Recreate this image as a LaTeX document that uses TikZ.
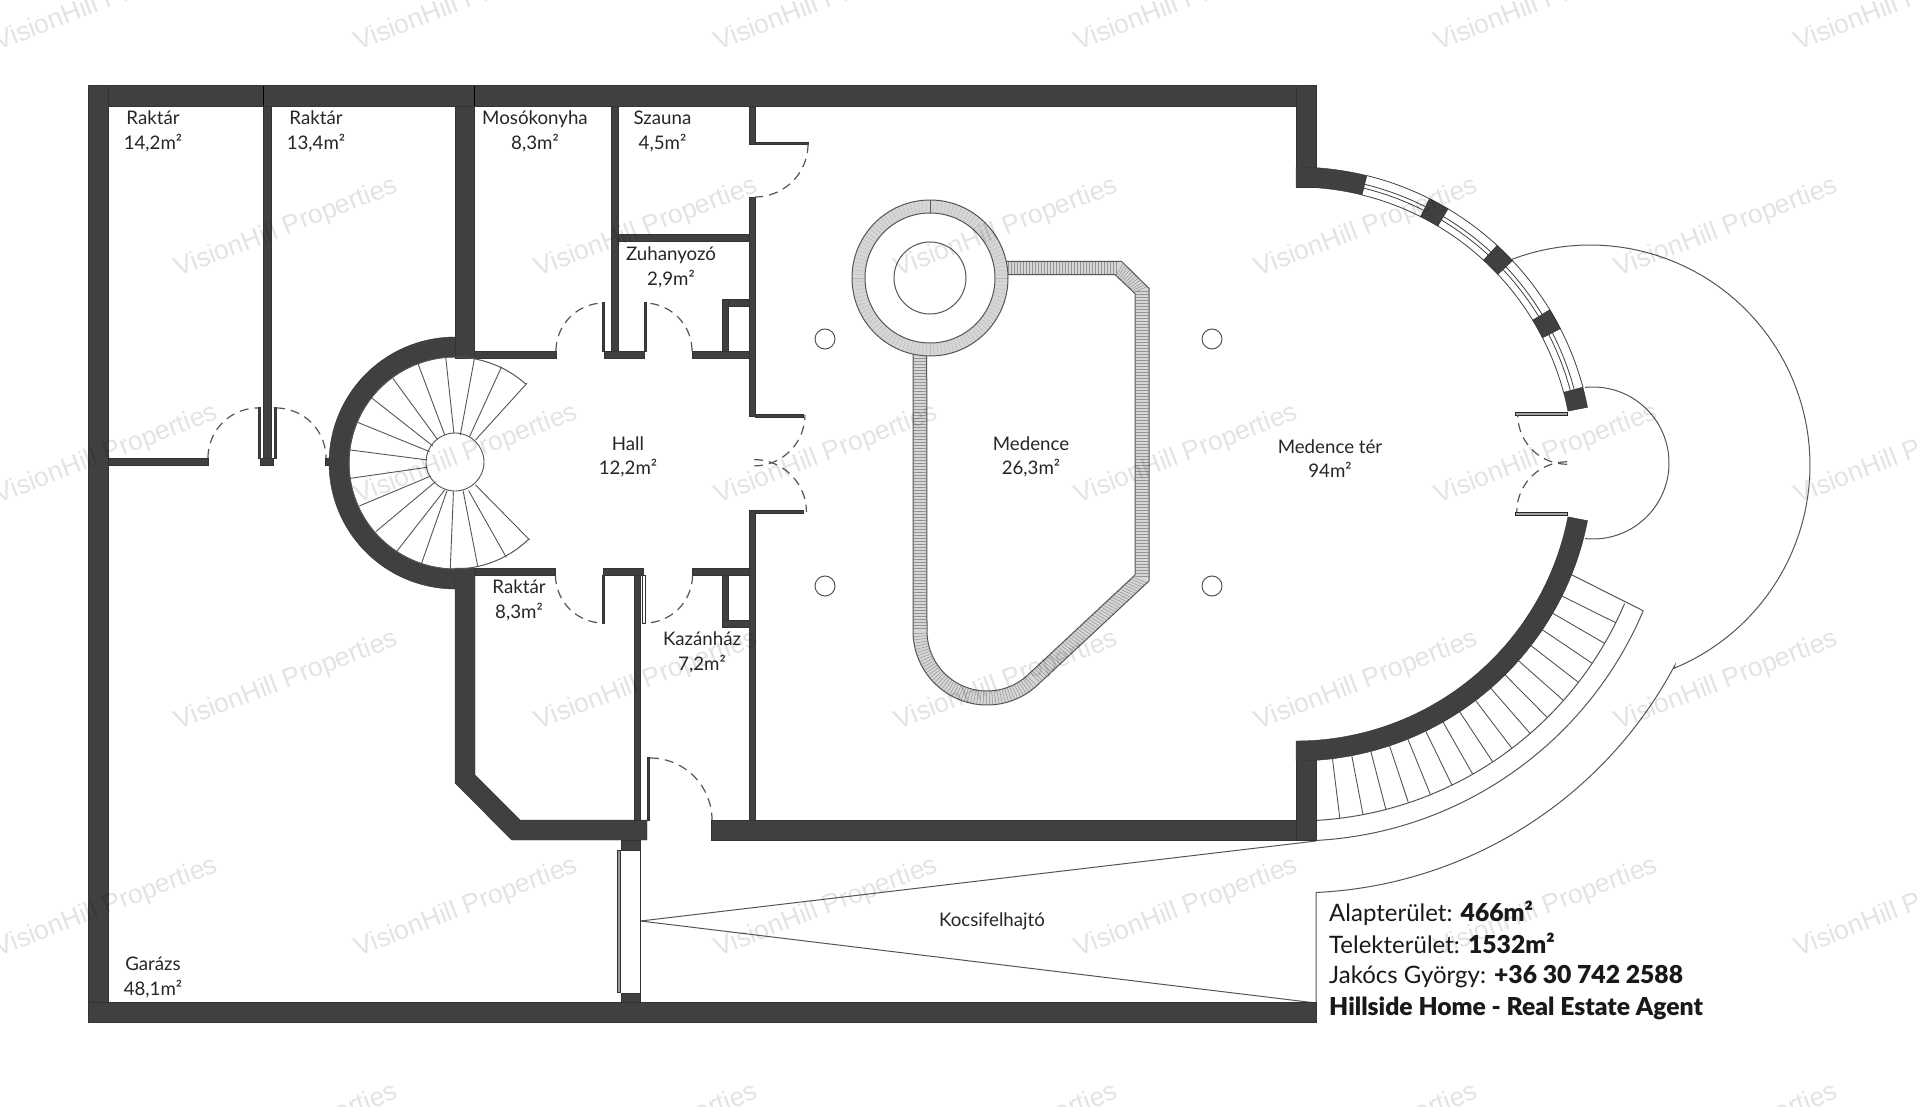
\documentclass[tikz,border=0pt]{standalone}
\usepackage{fontspec}
\setmainfont{Lato}
\newfontfamily\wmfont{Liberation Sans}
\newfontfamily\heavy{Lato Black}
\newcommand{\hv}[1]{{\heavy\fontsize{24.7}{27}\selectfont #1}}
\definecolor{wallc}{HTML}{404040}
\definecolor{linec}{HTML}{555555}
\definecolor{poolc}{HTML}{D6D6D6}
\newcommand{\arcp}[5]{plot[domain=#4:#5,samples=70] ({#1+#3*cos(\x)},{#2+#3*sin(\x)})}
\newcommand{\arcc}[5]{-- plot[domain=#4:#5,samples=70] ({#1+#3*cos(\x)},{#2+#3*sin(\x)})}
\newcommand{\wallrect}[4]{\fill[wallc,draw=black!80,line width=.4pt] (#1,#2) rectangle (#3,#4);}
\newcommand{\annsec}[6]{\fill[wallc,draw=black!80,line width=.4pt] \arcp{#1}{#2}{#3}{#5}{#6} \arcc{#1}{#2}{#4}{#6}{#5} -- cycle;}
\newcommand{\doorarc}[5]{\draw[doorline] \arcp{#1}{#2}{#3}{#4}{#5};}
\tikzset{
  x=1pt,y=-1pt,
  thinline/.style={draw=linec,line width=1pt},
  doorline/.style={draw=linec,line width=1.2pt,dash pattern=on 9pt off 6pt},
  room/.style={align=center,font=\fontsize{18.7}{24.5}\selectfont,inner sep=0pt,text=black!85},
  infotext/.style={anchor=base west,font=\fontsize{24}{27}\selectfont,inner sep=0pt,text=black!90},
  mark text/.style={font=\wmfont\fontsize{26.5}{30}\selectfont,text=black,opacity=.11,rotate=21,inner sep=0pt},
  stub/.style={fill=black!35,draw=black!85,line width=.7pt},
  glass/.style={draw=black!75,line width=.8pt},
  hatch/.style={black!42,line width=.5pt}
}
\begin{document}
\begin{tikzpicture}
\fill[white] (0,0) rectangle (1920,1107);
\clip (0,0) rectangle (1920,1107);
% ---------- thin outlines (terrace, stairs, drive)
\coordinate (apex) at (640.6,921);
\coordinate (drivetop) at (1316,841);
\coordinate (drivebot) at (1316,1003);
\draw[thinline] (apex) -- (drivetop);
\draw[thinline] (apex) -- (drivebot);
\draw[thinline] \arcp{1593}{463}{76}{-96}{96};
\draw[thinline] \arcp{1590}{465}{220}{-110.8}{67.5} \arcc{1296}{464}{429}{28}{87.3} -- (drivebot);
\draw[thinline] \arcp{1296}{464}{357}{23}{86.8};
\draw[thinline] \arcp{1296}{464}{377}{22.9}{87};
\draw[thinline] (1570,574) -- (1643,610.7);
\foreach \i in {0,...,15}{
  \pgfmathsetmacro{\ang}{26.4+3.77*\i}
  \draw[draw=linec,line width=.9pt] ({1296+297*cos(\ang)},{464+297*sin(\ang)}) -- ({1296+357*cos(\ang)},{464+357*sin(\ang)});
}
% ---------- pool
\fill[poolc] (913,340) \arcc{987}{631}{74}{180}{46.6} -- (1149,581) -- (1149,288.4) -- (1121.7,261.5) -- (960,261.5) -- cycle;
\foreach \yy in {358,361,...,630}{\draw[hatch] (913,\yy) -- (926.7,\yy);}
\foreach \yy in {291,294,...,576}{\draw[hatch] (1135,\yy) -- (1149,\yy);}
\foreach \xx in {1008,1011,...,1116}{\draw[hatch] (\xx,261.5) -- (\xx,274.6);}
\foreach \ang in {48,50.5,...,178}{\draw[hatch] ({987+60*cos(\ang)},{631+60*sin(\ang)}) -- ({987+74*cos(\ang)},{631+74*sin(\ang)});}
\foreach \t in {0.02,0.04,...,0.98}{
  \draw[hatch] ({1135+(1028-1135)*\t},{575+(674.6-575)*\t}) -- ({1149+(1037.8-1149)*\t},{581+(684.8-581)*\t});
}
\foreach \t in {0.06,0.14,...,0.95}{
  \draw[hatch] ({1115+20*\t},{274.6+19*\t}) -- ({1121.7+26.6*\t},{261.5+26.9*\t});
}
\draw[thinline] (913,340) \arcc{987}{631}{74}{180}{46.6} -- (1149,581) -- (1149,288.4) -- (1121.7,261.5) -- (960,261.5);
\fill[white] (926.7,340) \arcc{987}{631}{60}{180}{46.6} -- (1135,575) -- (1135,293.6) -- (1115,274.6) -- (960,274.6) -- cycle;
\draw[thinline] (926.7,340) \arcc{987}{631}{60}{180}{46.6} -- (1135,575) -- (1135,293.6) -- (1115,274.6) -- (960,274.6);
\fill[poolc] (930,278) circle[radius=78];
\foreach \ang in {0,3,...,357}{\draw[black!28,line width=.35pt] ({930+65*cos(\ang)},{278+65*sin(\ang)}) -- ({930+78*cos(\ang)},{278+78*sin(\ang)});}
\draw[thinline,fill=none] (930,278) circle[radius=78];
\draw[thinline,fill=white] (930,278) circle[radius=65];
\draw[thinline] (930,278) circle[radius=36];
\draw[thinline] (930,200) -- (930,213);
% columns
\foreach \cx/\cy in {825/339,1212/339,825/586,1212/586}{\draw[thinline] (\cx,\cy) circle[radius=10];}
% ---------- walls
\wallrect{88.5}{85.7}{1316}{106}
\wallrect{88.5}{85.7}{108}{1022.5}
\wallrect{88.5}{1002.5}{1316}{1022.5}
\draw[black,line width=.7pt] (263.4,86) -- (263.4,106);
\draw[black,line width=.7pt] (474.6,86) -- (474.6,106);
\wallrect{263.4}{106}{271.2}{458}
\wallrect{260}{458}{273.5}{465}
\wallrect{108}{458}{208}{465}
\wallrect{325}{458}{332}{465}
\wallrect{455}{106}{474.6}{358}
\annsec{455}{463}{106}{126}{90}{270}
\wallrect{474.6}{351}{556}{358}
\wallrect{604}{351}{644}{358}
\wallrect{692}{351}{749}{358}
\wallrect{611}{106}{618}{351}
\wallrect{618}{234}{749}{241}
\wallrect{602}{302}{604}{351}
\wallrect{644}{302}{646}{351}
\wallrect{258}{407}{260.5}{458}
\wallrect{274}{407}{276}{458}
\wallrect{749}{106}{755}{144}
\wallrect{755}{142}{808}{144.5}
\wallrect{749}{197}{755}{416}
\wallrect{755}{414}{803}{416.7}
\wallrect{749}{510}{755}{820}
\wallrect{755}{510}{803}{512.7}
\wallrect{722}{299}{749}{306}
\wallrect{722}{299}{728}{351}
\wallrect{475}{568}{555.6}{575}
\wallrect{603.5}{568}{643}{575}
\wallrect{692}{568}{749}{575}
\wallrect{722}{575}{728}{627}
\wallrect{722}{620}{749}{627}
\fill[wallc,draw=black!80,line width=.4pt] (455,568) -- (475,568) -- (475,775) -- (520,820) -- (647,820) -- (647,840) -- (511.6,840) -- (455,783) -- cycle;
\wallrect{634}{575}{640.6}{820}
\wallrect{602}{575}{604}{623}
\draw[draw=black!80,fill=white,line width=.8pt] (642.5,575) rectangle (645.5,623);
\wallrect{647}{757}{649.5}{820}
\wallrect{711}{820}{1316}{840}
\wallrect{620.7}{840}{640.6}{850}
\wallrect{620.7}{992.7}{640.6}{1002.5}
\draw[draw=black!80,fill=black!40,line width=.7pt] (617.6,850) rectangle (620.7,992.7);
\draw[black!80,line width=.8pt] (640.6,850) -- (640.6,992.7);
% right curved wall
\wallrect{1296}{85.7}{1316}{187}
\wallrect{1296}{741}{1316}{840}
\annsec{1296}{464}{277}{297}{270}{283.8}
\annsec{1296}{464}{277}{297}{11}{90}
\draw[glass] \arcp{1296}{464}{277}{283.8}{345};
\draw[glass] \arcp{1296}{464}{297}{283.8}{345};
\foreach \aa/\bb in {283.8/296.7,300.8/312.6,316.8/328.7,332.9/345}{
  \draw[glass] \arcp{1296}{464}{284}{\aa}{\bb};
  \draw[glass] \arcp{1296}{464}{288}{\aa}{\bb};
}
\annsec{1296}{464}{277}{297}{296.7}{300.8}
\annsec{1296}{464}{277}{297}{312.6}{316.8}
\annsec{1296}{464}{277}{297}{328.7}{332.9}
\annsec{1296}{464}{277}{297}{345}{349}
\draw[stub] (1515,412) rectangle (1567,415);
\draw[stub] (1515,512) rectangle (1567,515);
% ---------- doors
\doorarc{258}{458}{50}{180}{270}
\doorarc{276}{458}{50}{270}{360}
\doorarc{604}{351}{48}{180}{270}
\doorarc{644}{351}{48}{360}{270}
\doorarc{603.5}{575}{48}{180}{90}
\doorarc{644.5}{575}{48}{0}{90}
\doorarc{650}{820}{62}{270}{360}
\doorarc{755}{144}{53}{0}{90}
\doorarc{754}{415}{50.9}{90}{0}
\doorarc{754}{512}{52.4}{270}{360}
\doorarc{1567}{415}{49.2}{90}{180}
\doorarc{1567}{512}{50.2}{270}{180}
% ---------- spiral stair
\draw[thinline] \arcp{455}{463}{106}{46}{312};
\draw[draw=linec,line width=.9pt] (455,462) circle[radius=29];
\begin{scope}[shift={(60pt,-70pt)},x=.4591pt,y=-.3333pt]
\foreach \ax/\ay/\bx/\by in {1017/940/905/1110,962/890/892/1100,903/863/872/1095,840/860/858/1090,780/882/838/1095,725/925/822/1108,680/985/812/1128,648/1057/805/1145,632/1140/800/1170,633/1225/800/1192,652/1308/808/1218,688/1385/818/1235,733/1445/838/1260,787/1482/843/1262,850/1498/857/1265,910/1490/878/1262,972/1462/890/1262,1023/1410/905/1245}{
  \draw[draw=linec,line width=.9pt] (\ax,\ay) -- (\bx,\by);
}
\end{scope}
% ---------- room labels
\node[room] (r1) at (153,131.5) {Raktár\\14,2m²};
\node[room] (r2) at (316,131.5) {Raktár\\13,4m²};
\node[room] (r3) at (535,131.5) {Mosókonyha\\8,3m²};
\node[room] (r4) at (662.5,131.5) {Szauna\\4,5m²};
\node[room] (r5) at (671,267.5) {Zuhanyozó\\2,9m²};
\node[room] (r6) at (628,457) {Hall\\12,2m²};
\node[room] (r7) at (519,600.5) {Raktár\\8,3m²};
\node[room] (r8) at (702,652.5) {Kazánház\\7,2m²};
\node[room] (r9) at (1031,457) {Medence\\26,3m²};
\node[room] (r10) at (1330,458.5) {Medence tér\\94m²};
\node[room] (r11) at (992,921.5) {Kocsifelhajtó};
\node[room] (r12) at (153,977.5) {Garázs\\48,1m²};
\node[infotext] (i1) at (1329,921) {Alapterület: \hv{466m²}};
\node[infotext] (i2) at (1329,953) {Telekterület: \hv{1532m²}};
\node[infotext] (i3) at (1329,983.5) {Jakócs György: \hv{+36 30 742 2588}};
\node[infotext] (i4) at (1329,1015.5) {\hv{Hillside Home - Real Estate Agent}};
% ---------- watermark
\foreach \k in {0,1,2,3,4}{
  \pgfmathsetmacro{\wa}{286.5+360*\k}
  \node[mark text] (wmb\k) at (\wa,228) {VisionHill Properties};
  \node[mark text] (wmd\k) at (\wa,681) {VisionHill Properties};
  \node[mark text] (wmf\k) at (\wa,1134) {VisionHill Properties};
}
\foreach \k in {0,1,2,3,4,5}{
  \pgfmathsetmacro{\wb}{106.5+360*\k}
  \node[mark text] (wma\k) at (\wb,1.5) {VisionHill Properties};
  \node[mark text] (wmc\k) at (\wb,454.5) {VisionHill Properties};
  \node[mark text] (wme\k) at (\wb,907.5) {VisionHill Properties};
}
\end{tikzpicture}
\end{document}
